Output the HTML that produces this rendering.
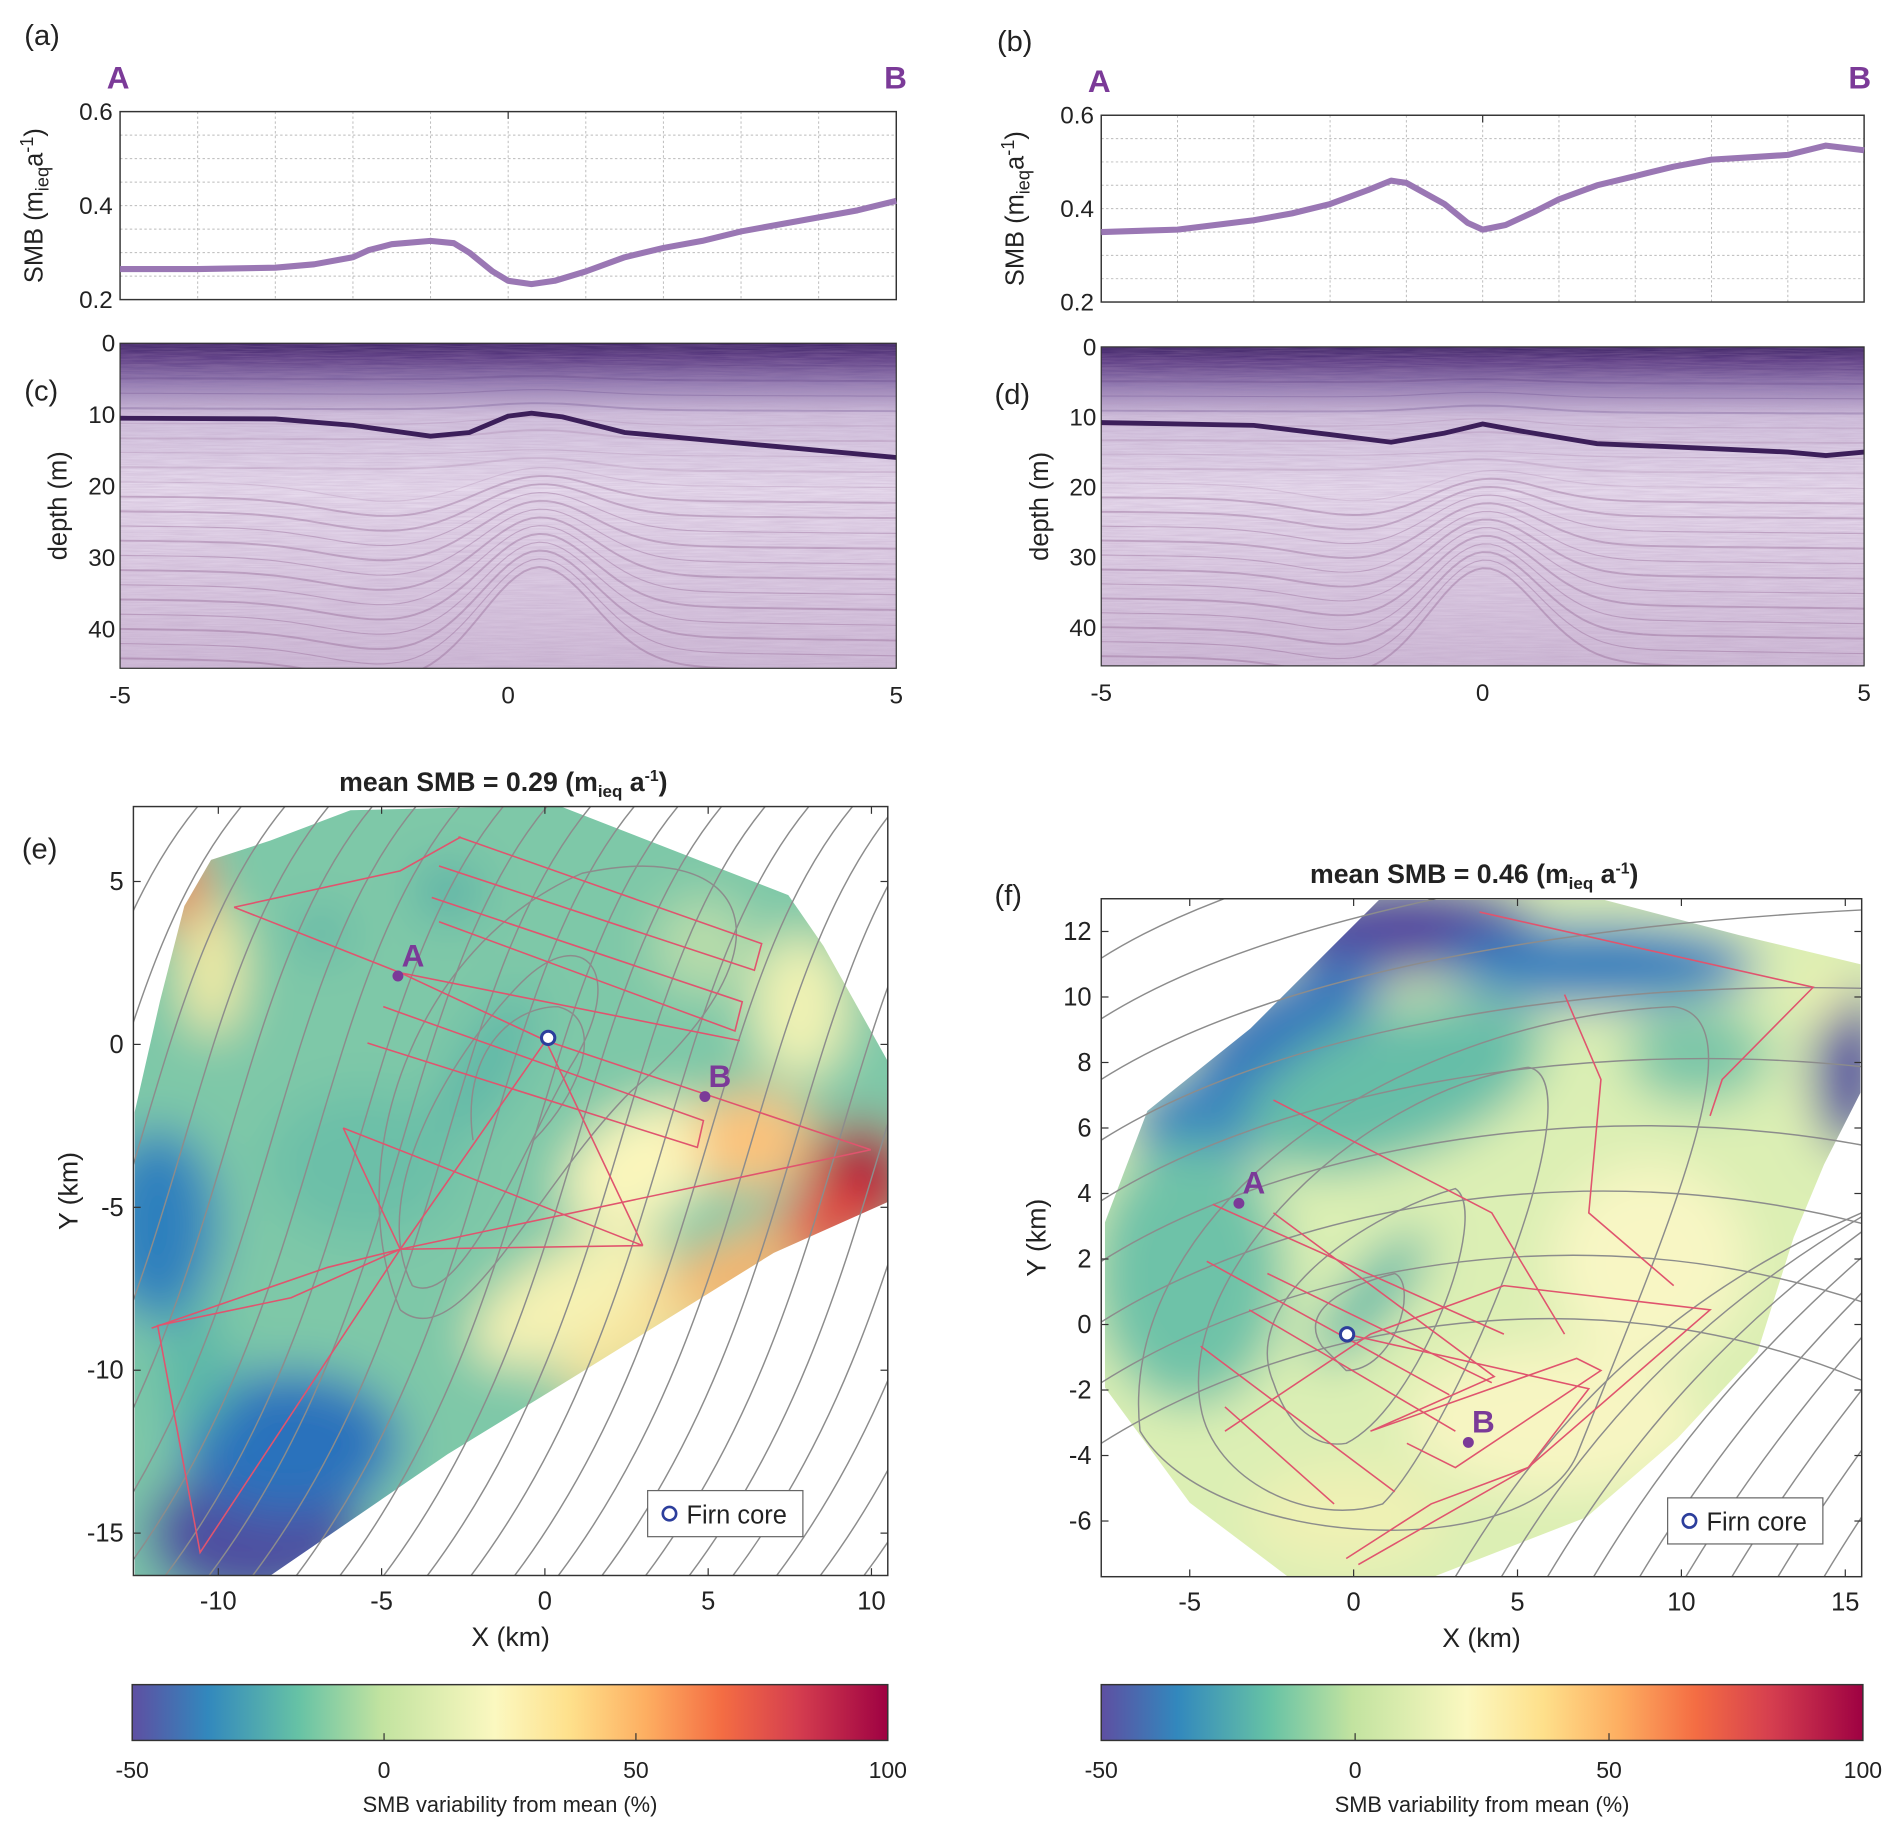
<!DOCTYPE html>
<html><head><meta charset="utf-8"><style>
html,body{margin:0;padding:0;background:#fff}
svg{display:block}
text{font-family:"Liberation Sans",sans-serif;fill:#222}
</style></head><body>
<svg id="fig" xmlns="http://www.w3.org/2000/svg" width="1892" height="1829" viewBox="0 0 1560 1508">
<defs>
<linearGradient id="radGrad" x1="0" y1="0" x2="0" y2="1">
<stop offset="0" stop-color="#3e2466"/><stop offset="0.04" stop-color="#5a3a82"/><stop offset="0.12" stop-color="#9078b0"/><stop offset="0.22" stop-color="#d2c2de"/><stop offset="0.45" stop-color="#e8dcee"/><stop offset="0.7" stop-color="#ddcde4"/><stop offset="1" stop-color="#d0bcd8"/>
</linearGradient>
<linearGradient id="cmap" x1="0" y1="0" x2="1" y2="0">
<stop offset="0" stop-color="#5e4fa2"/><stop offset="0.1" stop-color="#3288bd"/><stop offset="0.22" stop-color="#66c2a5"/><stop offset="0.33" stop-color="#c2e3a0"/><stop offset="0.48" stop-color="#fbf8c0"/><stop offset="0.58" stop-color="#fee08b"/><stop offset="0.68" stop-color="#fdae61"/><stop offset="0.78" stop-color="#f46d43"/><stop offset="0.88" stop-color="#d53e4f"/><stop offset="1" stop-color="#9e0142"/>
</linearGradient>
<filter id="blur" x="-50%" y="-50%" width="200%" height="200%"><feGaussianBlur stdDeviation="20"/></filter>
<filter id="noise"><feTurbulence type="fractalNoise" baseFrequency="0.03 0.8" numOctaves="3" seed="3"/><feColorMatrix values="0 0 0 0 0.45  0 0 0 0 0.3  0 0 0 0 0.5  0 0 0 0.6 -0.1"/></filter>
<clipPath id="clipA"><rect x="99" y="283" width="640" height="268"/></clipPath>
<clipPath id="clipB"><rect x="908" y="286" width="629" height="263"/></clipPath>
<clipPath id="clipE"><rect x="110" y="665" width="622" height="634"/></clipPath>
<clipPath id="clipF"><rect x="908" y="741" width="627" height="559"/></clipPath>
<clipPath id="polyE"><polygon points="152,747 174,709 223,693 289,668 460,664 650,738 679,780 732,875 732,991 638,1033 472,1136 369,1199 223,1299 111,1299 111,917 132,825"/></clipPath>
<clipPath id="polyF"><polygon points="911,1008 946,916 1031,848 1137,742 1323,742 1434,771 1534,795 1534,901 1504,960 1479,1020 1449,1115 1383,1186 1308,1251 1182,1300 1062,1300 981,1239 911,1144"/></clipPath>
</defs>

<text x="20" y="37" font-size="24">(a)</text>
<text x="822" y="42" font-size="24">(b)</text>
<text x="20" y="330" font-size="24">(c)</text>
<text x="820" y="333" font-size="24">(d)</text>
<text x="18" y="708" font-size="24">(e)</text>
<text x="820" y="746" font-size="24">(f)</text>
<g font-weight="bold" font-size="26" style="fill:#7b3a98">
<text x="88" y="73" style="fill:#7b3a98">A</text>
<text x="729" y="73" style="fill:#7b3a98">B</text>
<text x="897" y="76" style="fill:#7b3a98">A</text>
<text x="1524" y="73" style="fill:#7b3a98">B</text>
</g>

<g id="plotA"></g>
<g id="plotB"></g>
<g id="radarC"></g>
<g id="radarD"></g>
<g id="mapE"></g>
<g id="mapF"></g>
<g id="cbars"></g>
</svg>
<script>
const profAx = [-5,-4,-3,-2.5,-2,-1.8,-1.5,-1,-0.7,-0.5,-0.2,0,0.3,0.6,1,1.5,2,2.5,3,3.5,4,4.5,5];
const profAy = [0.265,0.265,0.268,0.275,0.29,0.305,0.318,0.325,0.32,0.30,0.26,0.24,0.233,0.24,0.26,0.29,0.31,0.325,0.345,0.36,0.375,0.39,0.41];
const profBx = [-5,-4,-3,-2.5,-2,-1.5,-1.2,-1,-0.5,-0.2,0,0.3,0.7,1,1.5,2,2.5,3,3.5,4,4.5,5];
const profBy = [0.35,0.355,0.375,0.39,0.41,0.44,0.46,0.455,0.41,0.37,0.355,0.365,0.395,0.42,0.45,0.47,0.49,0.505,0.51,0.515,0.535,0.525];
const horCx = [-5,-3,-2,-1,-0.5,0,0.3,0.7,1.5,2.5,3.5,5];
const horCd = [10.5,10.6,11.5,13,12.5,10.2,9.8,10.3,12.5,13.5,14.5,16];
const horDx = [-5,-3,-2,-1.2,-0.5,0,0.5,1.5,3,4,4.5,5];
const horDd = [10.8,11.2,12.5,13.6,12.3,11,12,13.8,14.5,15,15.5,15];
const smbTicks = [0.2,0.4,0.6];
const depthTicks = [0,10,20,30,40];
const distTicks = [-5,0,5];
const eXTicks = [-10,-5,0,5,10], eYTicks = [5,0,-5,-10,-15];
const fXTicks = [-5,0,5,10,15], fYTicks = [12,10,8,6,4,2,0,-2,-4,-6];
const cbTicks = [-50,0,50,100];

const NS='http://www.w3.org/2000/svg';
function mk(parent,tag,attrs,txt){const e=document.createElementNS(NS,tag);for(const k in attrs)e.setAttribute(k,attrs[k]);if(txt!==undefined)e.textContent=txt;parent.appendChild(e);return e;}
function poly(xs,ys,fx,fy){return xs.map((x,i)=>(i?'L':'M')+fx(x).toFixed(1)+','+fy(ys[i]).toFixed(1)).join(' ');}

function smbPlot(g,L,R,T,B,xs,ys){
  const fx=v=>L+(v+5)/10*(R-L), fy=v=>B-(v-0.2)/0.4*(B-T);
  for(let v=-4;v<=4;v++){const l=mk(g,'line',{x1:fx(v),x2:fx(v),y1:T,y2:B,stroke:'#bbb','stroke-dasharray':'2,2','stroke-width':0.8});}
  for(let k=1;k<8;k++){const v=0.2+k*0.05;const l=mk(g,'line',{x1:L,x2:R,y1:fy(v),y2:fy(v),stroke:'#bbb','stroke-dasharray':'2,2','stroke-width':0.8});}
  const r=mk(g,'rect',{x:L,y:T,width:R-L,height:B-T,fill:'none',stroke:'#333','stroke-width':1.2});
  mk(g,'line',{x1:fx(0),x2:fx(0),y1:T,y2:T+6,stroke:'#333'});
  smbTicks.forEach(v=>{const t=mk(g,'text',{x:L-6,y:fy(v)+7,'font-size':20,'text-anchor':'end'},v.toFixed(1));});
  const p=mk(g,'path',{d:poly(xs,ys,fx,fy),fill:'none',stroke:'#9a77b4','stroke-width':5,'stroke-linejoin':'round'});
  
  const yt=mk(g,'text',{transform:`translate(${L-64},${(T+B)/2}) rotate(-90)`,'font-size':21,'text-anchor':'middle'});
  
  yt.innerHTML='SMB (m<tspan font-size="15" dy="5">ieq</tspan><tspan dy="-5">a</tspan><tspan font-size="15" dy="-8">-1</tspan><tspan dy="8">)</tspan>';
}
smbPlot(document.getElementById('plotA'),99,739,92,247,profAx,profAy);
smbPlot(document.getElementById('plotB'),908,1537,95,249,profBx,profBy);

function radar(g,L,R,T,B,clip,hx,hd,peak){
  const fx=v=>L+(v+5)/10*(R-L), fy=d=>T+d/45.5*(B-T);
  const gc=mk(g,'g',{'clip-path':`url(#${clip})`});
  mk(gc,'rect',{x:L,y:T,width:R-L,height:B-T,fill:'url(#radGrad)'});
  mk(gc,'rect',{x:L,y:T,width:R-L,height:B-T,filter:'url(#noise)',opacity:0.7});
  for(let d=3;d<46;d+=2.1){
    let s='';for(let x=-5;x<=5.01;x+=0.1){const bump=(d>14?(d-14)*0.45:d*0.1)*Math.exp(-Math.pow((x-peak)/1.0,2));const dip=(d>18?2.5:0)*Math.exp(-Math.pow((x+1.5)/1.2,2));const yy=fy(d-bump+dip+0.04*x*(d>14?d/10:1));s+=(s?'L':'M')+fx(x).toFixed(1)+','+yy.toFixed(1);}
    mk(gc,'path',{d:s,fill:'none',stroke:d<10?'#5a3a80':'#8a5a8a','stroke-width':(d%4<2.1)?1.6:0.9,opacity:d<10?0.25:(d>20?0.35:0.18)});
  }
  const h=mk(gc,'path',{d:poly(hx,hd,fx,fy),fill:'none',stroke:'#3c1f5a','stroke-width':4});
  
  mk(g,'rect',{x:L,y:T,width:R-L,height:B-T,fill:'none',stroke:'#333','stroke-width':1});
  depthTicks.forEach(d=>{const t=mk(g,'text',{x:L-4,y:fy(d)+7,'font-size':20,'text-anchor':'end'},d);});
  distTicks.forEach(v=>{const t=mk(g,'text',{x:fx(v),y:B+29,'font-size':20,'text-anchor':'middle'},v);});
  const yt=mk(g,'text',{transform:`translate(${L-44},${(T+B)/2}) rotate(-90)`,'font-size':21,'text-anchor':'middle'},'depth (m)');
  
}
radar(document.getElementById('radarC'),99,739,283,551,'clipA',horCx,horCd,0.4);
radar(document.getElementById('radarD'),908,1537,286,549,'clipB',horDx,horDd,0);

function map(g,o){
  const {L,R,T,B,x0,x1,y0,y1,clip,pclip,blobs,base}=o;
  const fx=v=>L+(v-x0)/(x1-x0)*(R-L), fy=v=>B-(v-y0)/(y1-y0)*(B-T);
  const gc=mk(g,'g',{'clip-path':`url(#${clip})`});
  const gp=mk(gc,'g',{'clip-path':`url(#${pclip})`});
  const field=mk(gp,'g',{filter:'url(#blur)'});
  
  mk(field,'rect',{x:L-100,y:T-100,width:R-L+200,height:B-T+200,fill:base});
  blobs.forEach(b=>mk(field,'ellipse',{cx:b[0],cy:b[1],rx:b[2],ry:b[3],fill:b[4],transform:`rotate(${b[5]||0} ${b[0]} ${b[1]})`}));
  o.contours.forEach(d=>{const c=mk(gc,'path',{d,fill:'none',stroke:'#8c8c8c','stroke-width':1.2});});
  o.tracks.forEach(d=>{const c=mk(gc,'path',{d,fill:'none',stroke:'#e0546e','stroke-width':1.3});});
  mk(g,'rect',{x:L,y:T,width:R-L,height:B-T,fill:'none',stroke:'#333','stroke-width':1.2});
  o.xt.forEach(v=>{mk(g,'line',{x1:fx(v),x2:fx(v),y1:B,y2:B-6,stroke:'#333'});mk(g,'line',{x1:fx(v),x2:fx(v),y1:T,y2:T+6,stroke:'#333'});const t=mk(g,'text',{x:fx(v),y:B+28,'font-size':21,'text-anchor':'middle'},v);});
  o.yt.forEach(v=>{mk(g,'line',{x1:L,x2:L+6,y1:fy(v),y2:fy(v),stroke:'#333'});mk(g,'line',{x1:R,x2:R-6,y1:fy(v),y2:fy(v),stroke:'#333'});const t=mk(g,'text',{x:L-8,y:fy(v)+7,'font-size':21,'text-anchor':'end'},v);});
  const xt=mk(g,'text',{x:(L+R)/2,y:B+58,'font-size':22,'text-anchor':'middle'},'X (km)');
  const yt=mk(g,'text',{transform:`translate(${L-46},${(T+B)/2}) rotate(-90)`,'font-size':22,'text-anchor':'middle'},'Y (km)');
  const tt=mk(g,'text',{x:(L+R)/2-6,y:T-13,'font-size':22,'font-weight':'bold','text-anchor':'middle'});
  
  tt.innerHTML=`mean SMB = ${o.mean} (m<tspan font-size="14" dy="5">ieq</tspan><tspan dy="-5"> a</tspan><tspan font-size="13" dy="-8">-1</tspan><tspan dy="8">)</tspan>`;
  o.pts.forEach(p=>{const c=mk(g,'circle',{cx:fx(p[0]),cy:fy(p[1]),r:4.5,fill:'#7b3a98'});
    const t=mk(g,'text',{x:fx(p[0])+3,y:fy(p[1])-8,'font-size':26,'font-weight':'bold',style:'fill:#7b3a98'},p[2]);});
  const fc=mk(g,'circle',{cx:fx(o.core[0]),cy:fy(o.core[1]),r:5.5,fill:'#fff',stroke:'#2c3e9c','stroke-width':2.5});
  const lg=mk(g,'g',{});
  mk(lg,'rect',{x:o.leg[0],y:o.leg[1],width:128,height:38,fill:'#fff',stroke:'#666'});
  mk(lg,'circle',{cx:o.leg[0]+18,cy:o.leg[1]+19,r:5.5,fill:'#fff',stroke:'#2c3e9c','stroke-width':2.2});
  mk(lg,'text',{x:o.leg[0]+32,y:o.leg[1]+27,'font-size':21},'Firn core');
}
function curves(list){return list.map(c=>`M${c[0]},${c[1]} C${c[2]},${c[3]} ${c[4]},${c[5]} ${c[6]},${c[7]}`);}
const eCont=[];for(let i=-4;i<20;i++){const x=i*36;eCont.push([x+20,1310,x+200,1080,x+180,800,x+320,650]);}
const eLoops=['M340,1060 C300,980 380,860 430,810 C480,760 520,800 470,880 C430,950 380,1080 340,1060','M390,940 C380,870 420,830 460,830 C500,840 480,900 440,940','M330,1080 C280,960 340,780 480,720 C620,690 660,780 520,900 C440,980 380,1120 330,1080'];
const eTracks=['M193,748 L330,802 L610,858','M330,802 L450,858 L718,948','M378,690 L628,778 L622,800 L362,714','M356,740 L612,826 L606,850 L362,760','M316,830 L580,924 L575,946 L303,860','M283,930 L530,1027 L330,1030 L283,930','M330,1030 L718,948','M330,1030 L450,858 L530,1027','M330,1030 L240,1070 L130,1093 L165,1280 L330,1030','M193,748 L330,718 L380,690','M330,1030 L270,1045 L125,1095'];
map(document.getElementById('mapE'),{L:110,R:732,T:665,B:1299,x0:-12.6,x1:10.5,y0:-16.3,y1:7.3,clip:'clipE',pclip:'polyE',base:'#7ec8a8',mean:'0.29',
 blobs:[[210,1265,90,60,'#4f50a0'],[240,1190,90,60,'#2a72bc'],[130,1010,50,80,'#2f80bd'],[160,1130,30,50,'#5cb8a8'],[530,960,70,45,'#fbf6bc',-30],[470,1070,90,40,'#f6f2b4',-30],[620,940,50,40,'#fdc27a'],[710,975,45,50,'#a8123e'],[680,1010,50,30,'#e24a40',-30],[590,1060,80,30,'#f8b46a',-30],[520,1110,70,25,'#f6e29a',-30],[150,730,20,40,'#f07a44'],[175,800,25,55,'#f4eca4'],[400,880,20,70,'#58b4a8',30],[580,780,40,40,'#b8dcaa'],[660,830,40,60,'#f0f2b4'],[300,960,80,60,'#6cbfa8'],[370,735,25,20,'#4eaaa8'],[265,770,18,16,'#4eaaa8']],
 contours:curves(eCont).concat(eLoops),tracks:eTracks,xt:eXTicks,yt:eYTicks,
 pts:[[-4.5,2.1,'A'],[4.9,-1.6,'B']],core:[0.1,0.2],leg:[534,1229]});
const fCont=[];for(let i=0;i<9;i++){const y=790+i*50;fCont.push([908,y,1050,y-90,1300,y-120-i*4,1540,y-170+i*15]);}
for(let i=0;i<9;i++){const x=1200+i*38;fCont.push([x,1300,x+60,1200,x+150,1080,x+335,1000-i*18]);}
const fLoops=['M1090,1110 C1070,1080 1110,1060 1150,1050 C1170,1060 1150,1130 1110,1130 Z','M1050,1140 C1020,1070 1130,1000 1200,980 C1230,1000 1170,1160 1110,1190 C1080,1195 1060,1170 1050,1140','M990,1160 C970,1050 1120,900 1260,880 C1320,890 1200,1180 1140,1240 C1080,1260 1000,1220 990,1160','M940,1180 C920,1000 1150,840 1380,830 C1450,840 1380,1000 1300,1200 C1260,1290 1000,1280 940,1180'];
const fTracks=['M1220,752 L1495,814 L1420,890 L1410,920','M1290,820 L1320,890 L1310,1000 L1380,1060','M1050,907 L1230,1000 L1290,1100','M1000,993 L1240,1100','M995,1040 L1195,1150','M1030,1080 L1200,1180','M990,1110 L1150,1230','M1010,1160 L1100,1240','M1050,1000 L1232,1135 L1130,1180 L1300,1120 L1320,1130 L1200,1210 L1160,1190','M1045,1050 L1230,1140','M1110,1100 L1310,1145 L1260,1210 L1120,1290','M1010,1180 L1130,1100 L1240,1060 L1410,1080 L1260,1210 L1180,1240 L1110,1285'];
map(document.getElementById('mapF'),{L:908,R:1535,T:741,B:1300,x0:-7.7,x1:15.5,y0:-7.7,y1:13.0,clip:'clipF',pclip:'polyF',base:'#dcefb4',mean:'0.46',
 blobs:[[1160,765,110,40,'#5549a0'],[1060,845,90,40,'#3578bc',-30],[1320,795,130,35,'#2f7ebe'],[990,925,60,40,'#3584be'],[980,1050,80,110,'#6ec2a8'],[1150,895,130,60,'#66bea8',-20],[1400,870,60,40,'#7ac6a8'],[1130,1070,22,70,'#5cb8a8',40],[1525,880,30,70,'#5046a0'],[1505,820,20,25,'#eef2b0'],[1280,1170,120,60,'#f7f5c2'],[1360,1040,80,80,'#f8f6c4'],[1110,1250,80,40,'#eff1b4']],
 contours:curves(fCont).concat(fLoops),tracks:fTracks,xt:fXTicks,yt:fYTicks,
 pts:[[-3.5,3.7,'A'],[3.5,-3.6,'B']],core:[-0.2,-0.3],leg:[1375,1235]});

const cb=document.getElementById('cbars');
[[109,732],[908,1536]].forEach(([L,R],k)=>{
  const r=mk(cb,'rect',{x:L,y:1389,width:R-L,height:46,fill:'url(#cmap)',stroke:'#333','stroke-width':1.2});
  
  cbTicks.forEach(v=>{const x=L+(v+50)/150*(R-L);mk(cb,'line',{x1:x,x2:x,y1:1435,y2:1429,stroke:'#333'});const t=mk(cb,'text',{x:x,y:1466,'font-size':19,'text-anchor':'middle'},v);});
  const t=mk(cb,'text',{x:(L+R)/2,y:1494,'font-size':18,'text-anchor':'middle'},'SMB variability from mean (%)');
  
});
</script>
</body></html>
